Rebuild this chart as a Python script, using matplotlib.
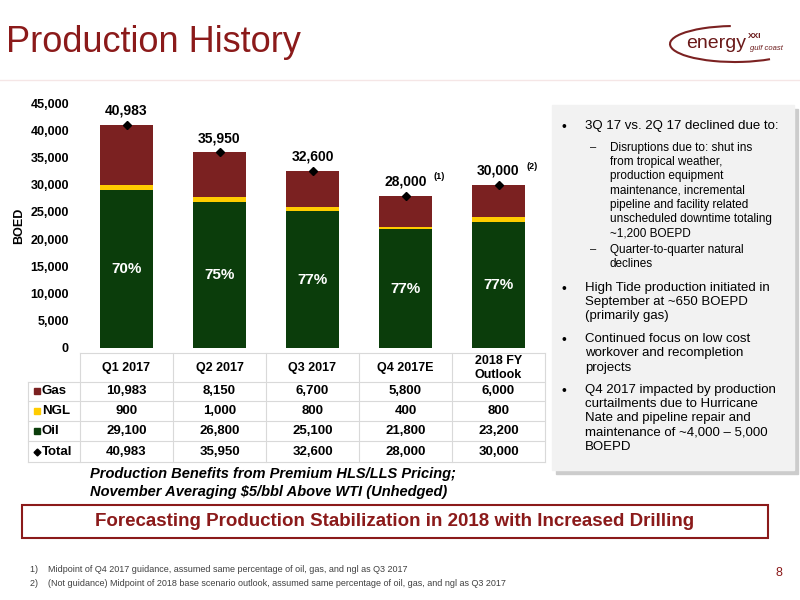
import matplotlib
matplotlib.use("Agg")
import matplotlib.pyplot as plt
from matplotlib.patches import Rectangle, Arc
import numpy as np

categories = ["Q1 2017", "Q2 2017", "Q3 2017", "Q4 2017E", "2018 FY\nOutlook"]
gas = [10983, 8150, 6700, 5800, 6000]
ngl = [900, 1000, 800, 400, 800]
oil = [29100, 26800, 25100, 21800, 23200]
total = [40983, 35950, 32600, 28000, 30000]
oil_pct = ["70%", "75%", "77%", "77%", "77%"]
total_notes = ["", "", "", "(1)", "(2)"]

GAS_C = "#7B2121"; NGL_C = "#FFCC00"; OIL_C = "#0B3D0B"; RED = "#8B1A1A"
plt.rcParams['font.family'] = ['Liberation Sans', 'DejaVu Sans']

fig = plt.figure(figsize=(8, 6), dpi=100)
W, H = 800, 600
def fx(x): return x / W
def fy(y): return 1 - y / H

AX_L, AX_R = 80, 545
ax = fig.add_axes([fx(AX_L), fy(348), fx(AX_R) - fx(AX_L), fy(103) - fy(348)])
x = np.arange(len(categories))
ax.bar(x, oil, width=0.58, color=OIL_C)
ax.bar(x, ngl, width=0.58, bottom=oil, color=NGL_C)
ax.bar(x, gas, width=0.58, bottom=np.array(oil) + np.array(ngl), color=GAS_C)
ax.plot(x, total, 'D', color='black', ms=4, ls='none')
for i in x:
    ax.text(i, total[i] + 1300, f"{total[i]:,}", ha='center', va='bottom', fontsize=10, fontweight='bold')
    if total_notes[i]:
        ax.text(i + 0.3, total[i] + 2600, total_notes[i], ha='left', va='bottom', fontsize=6.5, fontweight='bold')
    ax.text(i, oil[i] / 2, oil_pct[i], ha='center', va='center', fontsize=11, fontweight='bold', color='white')
ax.set_xlim(-0.5, 4.5)
ax.set_ylim(0, 45000)
ax.set_yticks(range(0, 45001, 5000))
ax.set_yticklabels([f"{v:,}" for v in range(0, 45001, 5000)], fontsize=9, fontweight='bold')
ax.set_xticks([])
ax.tick_params(axis='y', length=0, pad=8)
for s in ax.spines.values():
    s.set_visible(False)
ax.set_ylabel("BOED", fontsize=9, fontweight='bold', labelpad=4)

# table
col_w = (AX_R - AX_L) / 5
grid = "#D9D9D9"
fig.add_artist(plt.Line2D([fx(AX_L), fx(AX_R)], [fy(353), fy(353)], color=grid, lw=0.8))
for j in range(6):
    xx = AX_L + j * col_w
    fig.add_artist(plt.Line2D([fx(xx), fx(xx)], [fy(353), fy(462)], color=grid, lw=0.8))
row_y = [391, 411, 431, 452]
for yy in [382, 401, 421, 441, 462]:
    fig.add_artist(plt.Line2D([fx(28), fx(AX_R)], [fy(yy), fy(yy)], color=grid, lw=0.8))
fig.add_artist(plt.Line2D([fx(28), fx(28)], [fy(382), fy(462)], color=grid, lw=0.8))
for j, c in enumerate(categories):
    fig.text(fx(AX_L + (j + 0.5) * col_w), fy(368), c, ha='center', va='center', fontsize=9, fontweight='bold')
rows = [("Gas", gas, GAS_C, 's'), ("NGL", ngl, NGL_C, 's'), ("Oil", oil, OIL_C, 's'), ("Total", total, 'black', 'D')]
for (name, vals, col, mk), yy in zip(rows, row_y):
    fig.add_artist(plt.Line2D([fx(37)], [fy(yy)], marker=mk, color=col, ms=5 if mk == 's' else 3.5, ls='none'))
    fig.text(fx(42), fy(yy), name, ha='left', va='center', fontsize=9.5, fontweight='bold')
    for j, v in enumerate(vals):
        fig.text(fx(AX_L + (j + 0.5) * col_w), fy(yy), f"{v:,}", ha='center', va='center', fontsize=9.5, fontweight='bold')

# title
fig.text(fx(6), fy(42), "Production History", fontsize=26, color=RED, va='center', ha='left')
fig.add_artist(plt.Line2D([0, 1], [fy(80), fy(80)], color="#F5E6E6", lw=1))
fig.text(fx(686), fy(44), "energy", fontsize=14, color="#6B1A1A", va='center', ha='left')
fig.text(fx(748), fy(37), "XXI", fontsize=6, color="#6B1A1A", fontweight='bold', va='center', ha='left')
fig.text(fx(750), fy(49), "gulf coast", fontsize=5.5, color="#6B1A1A", style='italic', va='center', ha='left')
fig.add_artist(Arc((fx(735), fy(44)), fx(130), 36 / H, theta1=100, theta2=330, ec="#7B2121", lw=1.5,
                   transform=fig.transFigure))

# right box
fig.add_artist(Rectangle((fx(556), fy(474)), fx(242), (474 - 109) / H, color="#CCCCCC", transform=fig.transFigure))
fig.add_artist(Rectangle((fx(552), fy(470)), fx(242), (470 - 105) / H, color="#F2F2F2", transform=fig.transFigure))
bullets = [
    (0, 120, "3Q 17 vs. 2Q 17 declined due to:"),
    (1, 142, "Disruptions due to: shut ins\nfrom tropical weather,\nproduction equipment\nmaintenance, incremental\npipeline and facility related\nunscheduled downtime totaling\n~1,200 BOEPD"),
    (1, 244, "Quarter-to-quarter natural\ndeclines"),
    (0, 282, "High Tide production initiated in\nSeptember at ~650 BOEPD\n(primarily gas)"),
    (0, 333, "Continued focus on low cost\nworkover and recompletion\nprojects"),
    (0, 384, "Q4 2017 impacted by production\ncurtailments due to Hurricane\nNate and pipeline repair and\nmaintenance of ~4,000 – 5,000\nBOEPD"),
]
for lvl, yy, t in bullets:
    if lvl == 0:
        fig.text(fx(562), fy(yy), "•", fontsize=10, va='top')
        fig.text(fx(585), fy(yy), t, fontsize=9.5, va='top', linespacing=1.25)
    else:
        fig.text(fx(590), fy(yy), "–", fontsize=8, va='top')
        fig.text(fx(610), fy(yy), t, fontsize=8.5, va='top', linespacing=1.25)

fig.text(fx(90), fy(483), "Production Benefits from Premium HLS/LLS Pricing;\nNovember Averaging $5/bbl Above WTI (Unhedged)",
         fontsize=10.5, fontweight='bold', style='italic', va='center', ha='left', linespacing=1.3)
fig.add_artist(Rectangle((fx(22), fy(538)), fx(746), 33 / H, fill=False, ec=RED, lw=1.5, transform=fig.transFigure))
fig.text(fx(395), fy(521), "Forecasting Production Stabilization in 2018 with Increased Drilling",
         fontsize=13.5, fontweight='bold', color=RED, ha='center', va='center')
fig.text(fx(30), fy(570), "1)    Midpoint of Q4 2017 guidance, assumed same percentage of oil, gas, and ngl as Q3 2017",
         fontsize=6.5, color="#404040", va='center')
fig.text(fx(30), fy(584), "2)    (Not guidance) Midpoint of 2018 base scenario outlook, assumed same percentage of oil, gas, and ngl as Q3 2017",
         fontsize=6.5, color="#404040", va='center')
fig.text(fx(775), fy(573), "8", fontsize=9, color=RED, va='center')

fig.savefig("out.png", dpi=100)
